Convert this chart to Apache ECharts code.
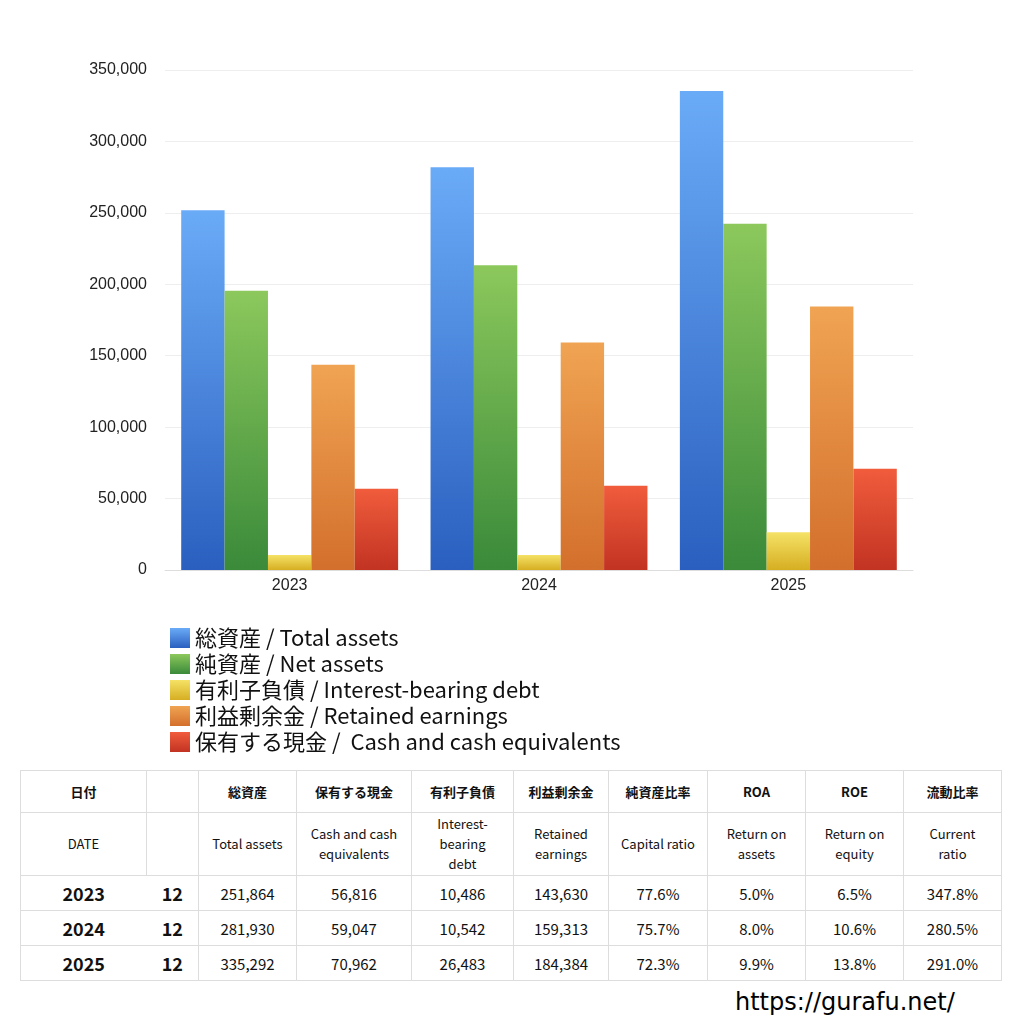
<!DOCTYPE html>
<html><head><meta charset="utf-8">
<script src="https://cdn.jsdelivr.net/npm/echarts@6/dist/echarts.min.js"></script>
<style>
body{margin:0;width:1024px;height:1024px;background:#fff;font-family:"Noto Sans CJK JP",sans-serif;position:relative;overflow:hidden}
#c{position:absolute;left:0;top:0;width:1024px;height:760px}
table{position:absolute;left:20px;top:770px;border-collapse:collapse;font-size:13px;color:#111}
td{border:1px solid #ddd;text-align:center;padding:0}
.h1 td{height:41px;font-weight:bold}
.h2 td{height:62px;line-height:20px}
.d td{height:34px;font-size:15px}
.d td.y{font-size:18px;font-weight:bold;border-right:none}
.d td.m{font-size:18px;font-weight:bold;border-left:none}
#u{position:absolute;left:735px;top:988px;font-size:24px;font-family:"DejaVu Sans";color:#000}
</style></head><body>
<div id="c"></div>
<table id="t"></table>
<div id="u">https://gurafu.net/</div>
<script>
const years=['2023','2024','2025'];
const names=['総資産 / Total assets','純資産 / Net assets','有利子負債 / Interest-bearing debt','利益剰余金 / Retained earnings','保有する現金 /  Cash and cash equivalents'];
const totalAssets=[251864,281930,335292];
const netAssets=[195400,213400,242400];
const debt=[10486,10542,26483];
const retained=[143630,159313,184384];
const cash=[56816,59047,70962];
const capRatio=['77.6%','75.7%','72.3%'];
const roa=['5.0%','8.0%','9.9%'];
const roe=['6.5%','10.6%','13.8%'];
const cur=['347.8%','280.5%','291.0%'];
const cols=[['#6aabf7','#2a5fbf'],['#8cc85c','#3a8a3a'],['#f5e266','#d6ae22'],['#f0a453','#d36f2c'],['#f05c3c','#c23322']];
const vals=[totalAssets,netAssets,debt,retained,cash];
const ch=echarts.init(document.getElementById('c'));
ch.setOption({animation:false,
grid:{left:165,right:111,top:70,height:500},
legend:{orient:'vertical',left:165,top:622,itemWidth:20,itemHeight:20,itemGap:4,icon:'rect',textStyle:{fontSize:22,color:'#111',fontFamily:'Noto Sans CJK JP'}},
xAxis:{type:'category',data:years,axisTick:{show:false},axisLine:{lineStyle:{color:'#ddd'}},axisLabel:{fontSize:16,color:'#222'}},
yAxis:{type:'value',min:0,max:350000,interval:50000,axisLabel:{fontSize:16,color:'#222',margin:18,formatter:v=>v.toLocaleString('en-US')},splitLine:{lineStyle:{color:'#eee'}}},
series:names.map((n,i)=>({name:n,type:'bar',data:vals[i],barGap:'0%',barCategoryGap:'13%',
itemStyle:{color:new echarts.graphic.LinearGradient(0,0,0,1,[{offset:0,color:cols[i][0]},{offset:1,color:cols[i][1]}])}}))
});
const f=v=>v.toLocaleString('en-US');
let h='<tr class="h1"><td style="width:125px">日付</td><td style="width:51px;border-left:none"></td><td style="width:97px">総資産</td><td style="width:114px">保有する現金</td><td style="width:101px">有利子負債</td><td style="width:94px">利益剰余金</td><td style="width:98px">純資産比率</td><td style="width:97px">ROA</td><td style="width:97px">ROE</td><td style="width:97px">流動比率</td></tr>';
h+='<tr class="h2"><td>DATE</td><td style="border-left:none"></td><td>Total assets</td><td>Cash and cash<br>equivalents</td><td>Interest-<br>bearing<br>debt</td><td>Retained<br>earnings</td><td>Capital ratio</td><td>Return on<br>assets</td><td>Return on<br>equity</td><td>Current<br>ratio</td></tr>';
years.forEach((y,i)=>{h+=`<tr class="d"><td class="y">${y}</td><td class="m">12</td><td>${f(totalAssets[i])}</td><td>${f(cash[i])}</td><td>${f(debt[i])}</td><td>${f(retained[i])}</td><td>${capRatio[i]}</td><td>${roa[i]}</td><td>${roe[i]}</td><td>${cur[i]}</td></tr>`});
document.getElementById('t').innerHTML=h;
</script></body></html>
